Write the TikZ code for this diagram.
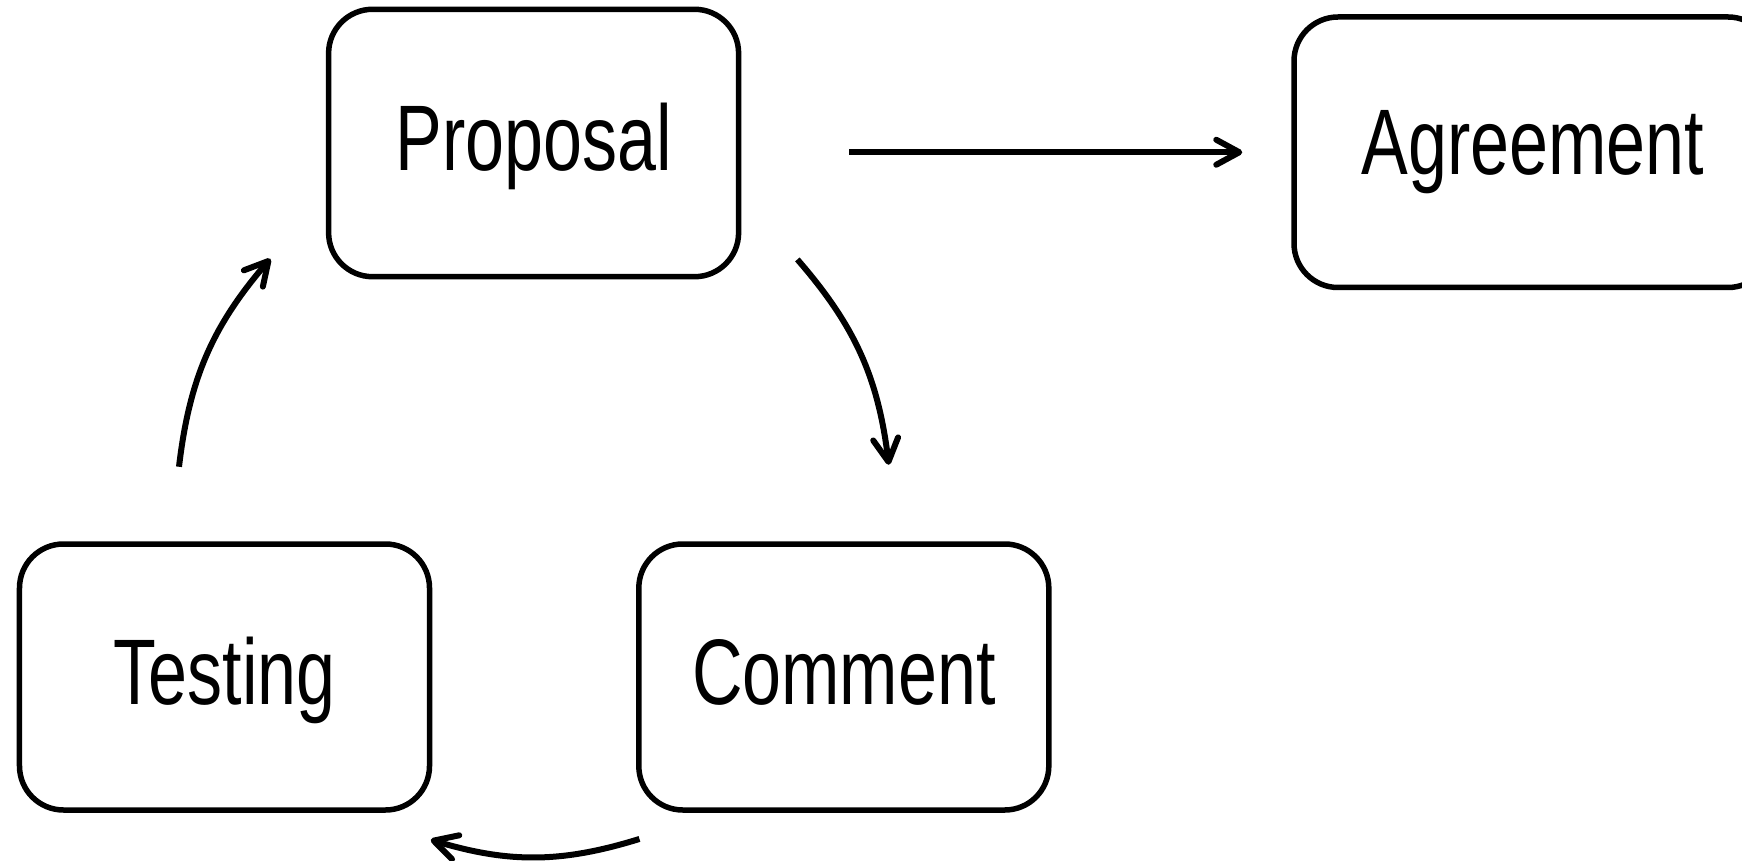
\documentclass[tikz,border=0pt]{standalone}
\usepackage{fontspec}
\setmainfont{Liberation Sans}[FakeStretch=0.752]
\usepackage{tikz}
\usetikzlibrary{
    arrows.meta,
    positioning
}

\begin{document}
\begin{tikzpicture}[
        box/.style={draw, line width=0.055cm, rounded corners=0.44cm, inner sep=0pt,
            minimum width=4.1cm, minimum height=2.66cm,
            text height=21.2pt, text depth=5.3pt,
            font=\fontsize{26.5}{31}\selectfont},
        arr/.style={line width=0.06cm,
            -{Straight Barb[length=0.23cm, width=0.25cm, round]}}
    ]
                        \useasboundingbox (0, 0) rectangle (17.42, -8.61);

                        \node[box, minimum height=2.674cm] (np) at (5.336, -1.43) {Proposal};
                        \node[box, minimum width=4.78cm, minimum height=2.705cm, text depth=8.4pt] (na) at (15.33, -1.5225) {Agreement};
                        \node[box] (nt) at (2.245, -6.77) {Testing};
                        \node[box] (nc) at (8.438, -6.77) {Comment};

                        % loop
                        \draw[arr] ([xshift=0.56cm, yshift=0.2cm]np.south east)
                            to[bend left=17] ([xshift=0.45cm, yshift=0.765cm]nc.north);
                        \draw[arr] ([xshift=0.034cm, yshift=-0.262cm]nc.south west)
                            to[bend left=17] ([xshift=-0.015cm, yshift=-0.27cm]nt.south east);
                        \draw[arr] ([xshift=-0.455cm, yshift=0.745cm]nt.north)
                            to[bend left=17] ([xshift=-0.555cm, yshift=0.207cm]np.south west);

                        % way out
                        \draw[arr, shorten <=1.08cm, shorten >=0.49cm] (np.east |- na.west) -- (na.west);
                    \end{tikzpicture}
\end{document}
